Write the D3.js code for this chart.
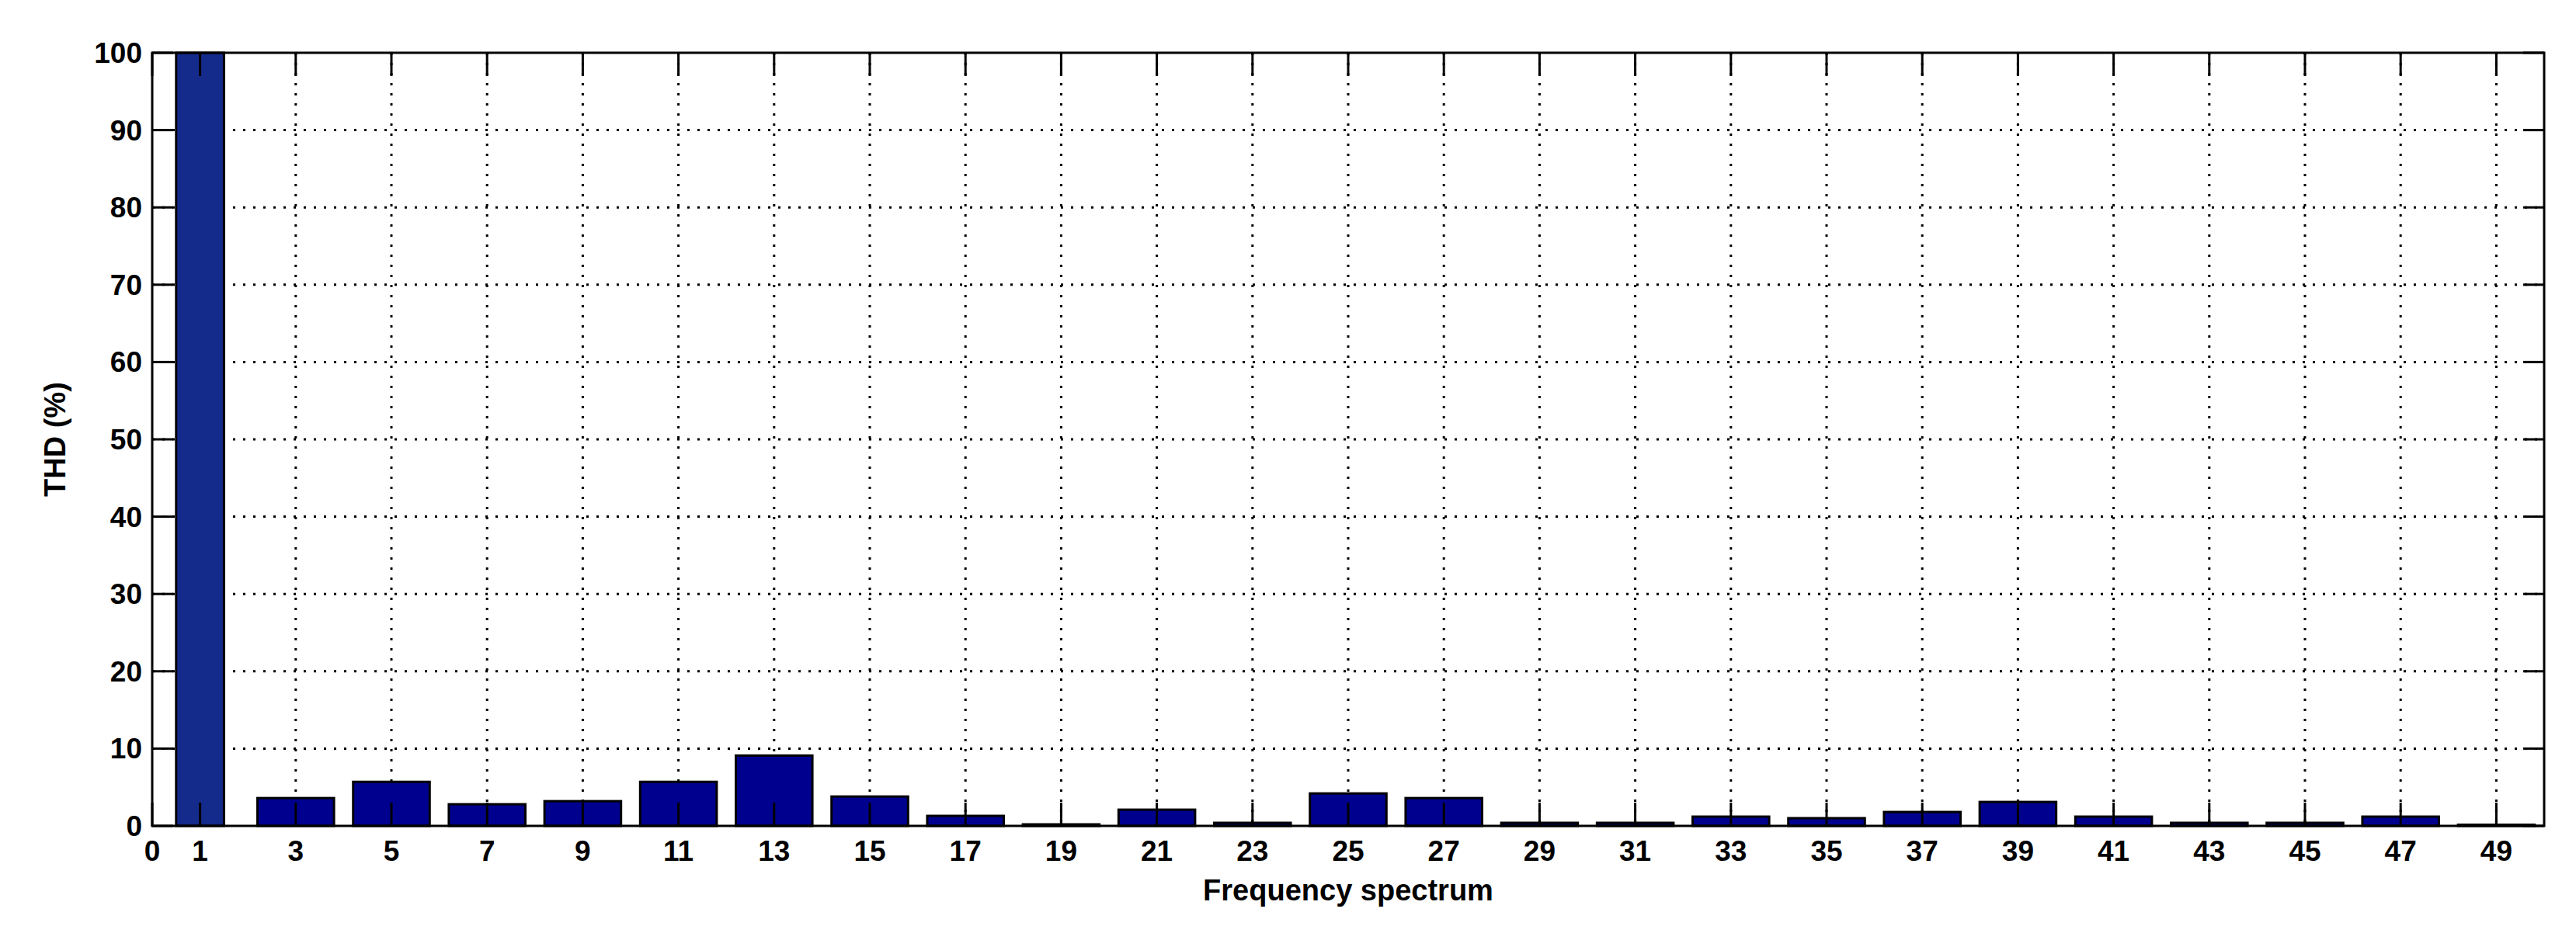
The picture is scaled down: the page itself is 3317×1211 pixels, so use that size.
<!DOCTYPE html>
<html><head><meta charset="utf-8">
<script src="https://cdn.jsdelivr.net/npm/d3@7"></script>
<style>body{margin:0;background:#fff}text{font-family:"Liberation Sans",Arial,sans-serif;font-weight:bold}</style>
</head><body><svg id="c" width="3317" height="1211"></svg>
<script>
const fundamental = [{h:1, v:100}];
const harmonics = [3,5,7,9,11,13,15,17,19,21,23,25,27,29,31,33,35,37,39,41,43,45,47,49];
const values = [3.6,5.7,2.8,3.2,5.7,9.1,3.8,1.3,0.2,2.1,0.4,4.2,3.6,0.4,0.4,1.2,1.0,1.8,3.1,1.2,0.4,0.4,1.2,0.15];
const xTicks = [0,1,3,5,7,9,11,13,15,17,19,21,23,25,27,29,31,33,35,37,39,41,43,45,47,49];
const yTicks = [0,10,20,30,40,50,60,70,80,90,100];

const L=196,R=3276,T=68,B=1064;
const svg=d3.select("#c");
const x=d3.scaleLinear().domain([0,50]).range([L,R]);
const y=d3.scaleLinear().domain([0,100]).range([B,T]);
const g=svg.append("g");
// grid
g.selectAll(".gx").data(xTicks.filter(d=>d>0)).join("line")
 .attr("x1",d=>x(d)).attr("x2",d=>x(d)).attr("y1",T).attr("y2",B)
 .attr("stroke","#000").attr("stroke-width",3).attr("stroke-dasharray","3,10");
g.selectAll(".gy").data(yTicks.filter(d=>d>0&&d<100)).join("line")
 .attr("x1",L).attr("x2",R).attr("y1",d=>y(d)).attr("y2",d=>y(d))
 .attr("stroke","#000").attr("stroke-width",3).attr("stroke-dasharray","3,10");
// bars
const hdata=harmonics.map((h,i)=>({h,v:values[i]}));
g.selectAll(".b").data(hdata).join("rect")
 .attr("x",d=>x(d.h-0.8)).attr("width",x(1.6)-x(0))
 .attr("y",d=>y(d.v)).attr("height",d=>y(0)-y(d.v))
 .attr("fill","#00008f").attr("stroke","#000").attr("stroke-width",3);
g.selectAll(".f").data(fundamental).join("rect")
 .attr("x",d=>x(d.h-0.5)).attr("width",x(1)-x(0))
 .attr("y",d=>y(d.v)).attr("height",d=>y(0)-y(d.v))
 .attr("fill","#152b8b").attr("stroke","#000").attr("stroke-width",3);
// ticks (inward, mirrored)
const tk=30;
g.selectAll(".tb").data(xTicks).join("line").attr("x1",d=>x(d)).attr("x2",d=>x(d)).attr("y1",B).attr("y2",B-tk).attr("stroke","#000").attr("stroke-width",3);
g.selectAll(".tt").data(xTicks).join("line").attr("x1",d=>x(d)).attr("x2",d=>x(d)).attr("y1",T).attr("y2",T+tk).attr("stroke","#000").attr("stroke-width",3);
g.selectAll(".tl").data(yTicks).join("line").attr("x1",L).attr("x2",L+27).attr("y1",d=>y(d)).attr("y2",d=>y(d)).attr("stroke","#000").attr("stroke-width",3);
g.selectAll(".tr").data(yTicks).join("line").attr("x1",R).attr("x2",R-27).attr("y1",d=>y(d)).attr("y2",d=>y(d)).attr("stroke","#000").attr("stroke-width",3);
g.append("rect").attr("x",L).attr("y",T).attr("width",R-L).attr("height",B-T).attr("fill","none").attr("stroke","#000").attr("stroke-width",3);
// labels
g.selectAll(".xl").data(xTicks).join("text").attr("x",d=>x(d)).attr("y",B+45).attr("text-anchor","middle").attr("font-size",37).text(d=>d);
g.selectAll(".yl").data(yTicks).join("text").attr("x",L-13).attr("y",d=>y(d)+13).attr("text-anchor","end").attr("font-size",37).text(d=>d);
svg.append("text").attr("x",(L+R)/2).attr("y",1160).attr("text-anchor","middle").attr("font-size",38).text("Frequency spectrum");
svg.append("text").attr("transform",`translate(84,${(T+B)/2}) rotate(-90)`).attr("text-anchor","middle").attr("font-size",38).text("THD (%)");
</script></body></html>
